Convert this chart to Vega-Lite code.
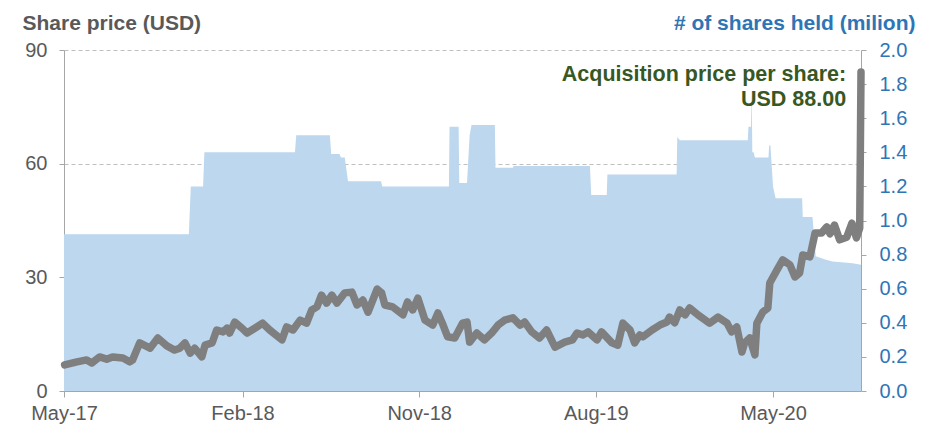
{
  "$schema": "https://vega.github.io/schema/vega-lite/v6.json",
  "width": 797,
  "height": 341,
  "autosize": "none",
  "padding": {"left": 64, "top": 50, "right": 72, "bottom": 36},
  "background": "white",
  "config": {
    "view": {"stroke": null},
    "font": "Liberation Sans",
    "axis": {"labelFont": "Liberation Sans", "titleFont": "Liberation Sans", "domainColor": "#A6A6A6", "tickColor": "#A6A6A6", "labelFlush": false, "labelOverlap": false}
  },
  "datasets": {
    "shares": [
      {"date": "2017-05-01", "shares": 0.92},
      {"date": "2017-11-10", "shares": 0.92},
      {"date": "2017-11-13", "shares": 1.20},
      {"date": "2017-12-02", "shares": 1.20},
      {"date": "2017-12-04", "shares": 1.40},
      {"date": "2018-04-23", "shares": 1.40},
      {"date": "2018-04-25", "shares": 1.50},
      {"date": "2018-06-16", "shares": 1.50},
      {"date": "2018-06-18", "shares": 1.39},
      {"date": "2018-07-01", "shares": 1.39},
      {"date": "2018-07-03", "shares": 1.37},
      {"date": "2018-07-09", "shares": 1.37},
      {"date": "2018-07-14", "shares": 1.23},
      {"date": "2018-09-03", "shares": 1.23},
      {"date": "2018-09-05", "shares": 1.20},
      {"date": "2018-12-17", "shares": 1.20},
      {"date": "2018-12-18", "shares": 1.55},
      {"date": "2019-01-01", "shares": 1.55},
      {"date": "2019-01-02", "shares": 1.22},
      {"date": "2019-01-14", "shares": 1.22},
      {"date": "2019-01-18", "shares": 1.50},
      {"date": "2019-01-21", "shares": 1.56},
      {"date": "2019-02-26", "shares": 1.56},
      {"date": "2019-02-27", "shares": 1.31},
      {"date": "2019-03-26", "shares": 1.31},
      {"date": "2019-03-27", "shares": 1.32},
      {"date": "2019-07-23", "shares": 1.32},
      {"date": "2019-07-25", "shares": 1.15},
      {"date": "2019-08-18", "shares": 1.15},
      {"date": "2019-08-19", "shares": 1.27},
      {"date": "2019-12-04", "shares": 1.27},
      {"date": "2019-12-05", "shares": 1.49},
      {"date": "2019-12-09", "shares": 1.47},
      {"date": "2020-03-23", "shares": 1.47},
      {"date": "2020-03-24", "shares": 1.55},
      {"date": "2020-03-28", "shares": 1.55},
      {"date": "2020-03-29", "shares": 1.78},
      {"date": "2020-03-30", "shares": 1.40},
      {"date": "2020-04-01", "shares": 1.40},
      {"date": "2020-04-03", "shares": 1.37},
      {"date": "2020-04-24", "shares": 1.37},
      {"date": "2020-04-25", "shares": 1.44},
      {"date": "2020-04-27", "shares": 1.44},
      {"date": "2020-05-01", "shares": 1.20},
      {"date": "2020-05-05", "shares": 1.13},
      {"date": "2020-06-15", "shares": 1.13},
      {"date": "2020-06-16", "shares": 1.02},
      {"date": "2020-07-01", "shares": 1.02},
      {"date": "2020-07-06", "shares": 0.79},
      {"date": "2020-07-22", "shares": 0.77},
      {"date": "2020-08-01", "shares": 0.76},
      {"date": "2020-09-01", "shares": 0.75},
      {"date": "2020-09-14", "shares": 0.74}
    ],
    "price": [
      {"date": "2017-05-02", "price": 6.9},
      {"date": "2017-05-21", "price": 7.7},
      {"date": "2017-06-05", "price": 8.2},
      {"date": "2017-06-13", "price": 7.4},
      {"date": "2017-06-25", "price": 9.0},
      {"date": "2017-07-06", "price": 8.4},
      {"date": "2017-07-15", "price": 9.0},
      {"date": "2017-07-31", "price": 8.7},
      {"date": "2017-08-11", "price": 7.7},
      {"date": "2017-08-15", "price": 8.2},
      {"date": "2017-08-26", "price": 12.7},
      {"date": "2017-09-11", "price": 11.3},
      {"date": "2017-09-23", "price": 14.0},
      {"date": "2017-10-07", "price": 11.9},
      {"date": "2017-10-19", "price": 10.8},
      {"date": "2017-10-27", "price": 11.3},
      {"date": "2017-11-04", "price": 12.7},
      {"date": "2017-11-12", "price": 10.0},
      {"date": "2017-11-19", "price": 11.3},
      {"date": "2017-11-30", "price": 9.0},
      {"date": "2017-12-05", "price": 12.1},
      {"date": "2017-12-16", "price": 12.7},
      {"date": "2017-12-23", "price": 16.1},
      {"date": "2018-01-02", "price": 15.6},
      {"date": "2018-01-08", "price": 16.6},
      {"date": "2018-01-12", "price": 15.3},
      {"date": "2018-01-20", "price": 18.2},
      {"date": "2018-01-31", "price": 16.6},
      {"date": "2018-02-08", "price": 15.3},
      {"date": "2018-02-23", "price": 16.9},
      {"date": "2018-03-04", "price": 17.9},
      {"date": "2018-03-15", "price": 16.1},
      {"date": "2018-04-03", "price": 13.5},
      {"date": "2018-04-10", "price": 16.9},
      {"date": "2018-04-20", "price": 16.1},
      {"date": "2018-05-01", "price": 18.7},
      {"date": "2018-05-11", "price": 17.9},
      {"date": "2018-05-19", "price": 21.4},
      {"date": "2018-05-27", "price": 22.2},
      {"date": "2018-06-03", "price": 25.3},
      {"date": "2018-06-11", "price": 23.2},
      {"date": "2018-06-19", "price": 25.3},
      {"date": "2018-06-27", "price": 23.2},
      {"date": "2018-07-09", "price": 25.9},
      {"date": "2018-07-20", "price": 26.1},
      {"date": "2018-07-28", "price": 22.7},
      {"date": "2018-08-06", "price": 24.0},
      {"date": "2018-08-14", "price": 20.8},
      {"date": "2018-08-28", "price": 26.9},
      {"date": "2018-09-04", "price": 25.9},
      {"date": "2018-09-09", "price": 22.7},
      {"date": "2018-09-21", "price": 22.2},
      {"date": "2018-10-07", "price": 20.1},
      {"date": "2018-10-14", "price": 23.5},
      {"date": "2018-10-22", "price": 21.4},
      {"date": "2018-10-30", "price": 24.5},
      {"date": "2018-11-10", "price": 18.7},
      {"date": "2018-11-22", "price": 17.4},
      {"date": "2018-11-30", "price": 20.6},
      {"date": "2018-12-08", "price": 17.4},
      {"date": "2018-12-15", "price": 14.3},
      {"date": "2018-12-26", "price": 14.0},
      {"date": "2019-01-07", "price": 17.9},
      {"date": "2019-01-14", "price": 18.2},
      {"date": "2019-01-18", "price": 12.9},
      {"date": "2019-01-29", "price": 15.3},
      {"date": "2019-02-10", "price": 13.5},
      {"date": "2019-02-21", "price": 15.3},
      {"date": "2019-03-03", "price": 17.4},
      {"date": "2019-03-13", "price": 18.7},
      {"date": "2019-03-26", "price": 19.3},
      {"date": "2019-04-06", "price": 17.4},
      {"date": "2019-04-13", "price": 18.2},
      {"date": "2019-04-24", "price": 15.6},
      {"date": "2019-05-06", "price": 14.0},
      {"date": "2019-05-17", "price": 16.1},
      {"date": "2019-05-30", "price": 11.6},
      {"date": "2019-06-14", "price": 12.9},
      {"date": "2019-06-26", "price": 13.5},
      {"date": "2019-07-03", "price": 15.3},
      {"date": "2019-07-12", "price": 14.8},
      {"date": "2019-07-20", "price": 15.6},
      {"date": "2019-08-03", "price": 13.5},
      {"date": "2019-08-10", "price": 15.6},
      {"date": "2019-08-26", "price": 12.7},
      {"date": "2019-09-04", "price": 12.1},
      {"date": "2019-09-12", "price": 17.9},
      {"date": "2019-09-23", "price": 16.1},
      {"date": "2019-09-30", "price": 12.7},
      {"date": "2019-10-08", "price": 14.8},
      {"date": "2019-10-13", "price": 14.3},
      {"date": "2019-10-27", "price": 16.1},
      {"date": "2019-11-08", "price": 17.4},
      {"date": "2019-11-19", "price": 18.2},
      {"date": "2019-11-23", "price": 19.5},
      {"date": "2019-12-01", "price": 18.0},
      {"date": "2019-12-09", "price": 21.4},
      {"date": "2019-12-17", "price": 20.1},
      {"date": "2019-12-24", "price": 21.9},
      {"date": "2020-01-06", "price": 20.1},
      {"date": "2020-01-24", "price": 17.9},
      {"date": "2020-02-06", "price": 19.5},
      {"date": "2020-02-20", "price": 17.9},
      {"date": "2020-02-27", "price": 15.6},
      {"date": "2020-03-06", "price": 16.9},
      {"date": "2020-03-14", "price": 10.3},
      {"date": "2020-03-18", "price": 12.7},
      {"date": "2020-03-26", "price": 14.0},
      {"date": "2020-04-03", "price": 9.5},
      {"date": "2020-04-06", "price": 17.9},
      {"date": "2020-04-15", "price": 20.8},
      {"date": "2020-04-23", "price": 21.9},
      {"date": "2020-04-26", "price": 28.5},
      {"date": "2020-05-07", "price": 31.9},
      {"date": "2020-05-16", "price": 34.6},
      {"date": "2020-05-27", "price": 33.3},
      {"date": "2020-06-04", "price": 30.1},
      {"date": "2020-06-11", "price": 31.1},
      {"date": "2020-06-16", "price": 35.9},
      {"date": "2020-06-27", "price": 35.4},
      {"date": "2020-07-05", "price": 41.7},
      {"date": "2020-07-15", "price": 41.7},
      {"date": "2020-07-23", "price": 43.3},
      {"date": "2020-07-28", "price": 41.5},
      {"date": "2020-08-04", "price": 43.8},
      {"date": "2020-08-12", "price": 39.9},
      {"date": "2020-08-23", "price": 40.6},
      {"date": "2020-08-31", "price": 44.3},
      {"date": "2020-09-07", "price": 40.4},
      {"date": "2020-09-12", "price": 43.0},
      {"date": "2020-09-14", "price": 84.2}
    ],
    "note": [
      {"date": "2020-08-22", "price": 83.4, "label": "Acquisition price per share:"},
      {"date": "2020-08-22", "price": 76.8, "label": "USD 88.00"}
    ]
  },
  "layer": [
    {
      "data": {"name": "shares"},
      "mark": {"type": "area", "color": "#BDD7EE", "opacity": 1, "interpolate": "linear"},
      "encoding": {
        "x": {
          "field": "date", "type": "temporal",
          "scale": {"type": "utc", "domain": [{"year": 2017, "month": 5, "date": 1, "utc": true}, {"year": 2020, "month": 9, "date": 14, "utc": true}]},
          "axis": {
            "title": null, "format": "%b-%y", "grid": false,
            "values": [
              {"year": 2017, "month": 5, "date": 1, "utc": true},
              {"year": 2018, "month": 2, "date": 1, "utc": true},
              {"year": 2018, "month": 11, "date": 1, "utc": true},
              {"year": 2019, "month": 8, "date": 1, "utc": true},
              {"year": 2020, "month": 5, "date": 1, "utc": true}
            ],
            "tickSize": 6, "labelPadding": 6, "labelFontSize": 20, "labelColor": "#595959"
          }
        },
        "y": {
          "field": "shares", "type": "quantitative",
          "scale": {"domain": [0, 2], "nice": false, "zero": true},
          "axis": {
            "orient": "right", "values": [0, 0.2, 0.4, 0.6, 0.8, 1.0, 1.2, 1.4, 1.6, 1.8, 2.0],
            "format": ".1f", "grid": false, "tickSize": 5, "labelPadding": 13,
            "labelFontSize": 20, "labelColor": "#2E75B6",
            "title": "# of shares held (milion)", "titleAngle": 0, "titleAlign": "right",
            "titleBaseline": "middle", "titleX": 54, "titleY": -27,
            "titleFontSize": 21, "titleFontWeight": "bold", "titleColor": "#2E75B6"
          }
        }
      }
    },
    {
      "layer": [
        {
          "data": {"name": "price"},
          "mark": {"type": "line", "color": "#7F7F7F", "strokeWidth": 7.5, "strokeCap": "round", "strokeJoin": "round", "interpolate": "linear"},
          "encoding": {
            "x": {"field": "date", "type": "temporal"},
            "y": {
              "field": "price", "type": "quantitative",
              "scale": {"domain": [0, 90], "nice": false},
              "axis": {
                "orient": "left", "values": [0, 30, 60, 90], "grid": true,
                "gridDash": [4, 3], "gridColor": "#BFBFBF", "gridWidth": 1,
                "tickSize": 5, "labelPadding": 12, "labelFontSize": 20, "labelColor": "#595959",
                "title": "Share price (USD)", "titleAngle": 0, "titleAlign": "left",
                "titleBaseline": "middle", "titleX": -42, "titleY": -27,
                "titleFontSize": 21, "titleFontWeight": "bold", "titleColor": "#595959"
              }
            }
          }
        },
        {
          "data": {"name": "note"},
          "mark": {"type": "text", "align": "right", "baseline": "middle", "fontSize": 21.5, "fontWeight": "bold", "color": "#385723", "font": "Liberation Sans"},
          "encoding": {
            "x": {"field": "date", "type": "temporal"},
            "y": {"field": "price", "type": "quantitative"},
            "text": {"field": "label", "type": "nominal"}
          }
        }
      ]
    }
  ],
  "resolve": {"scale": {"y": "independent"}}
}
